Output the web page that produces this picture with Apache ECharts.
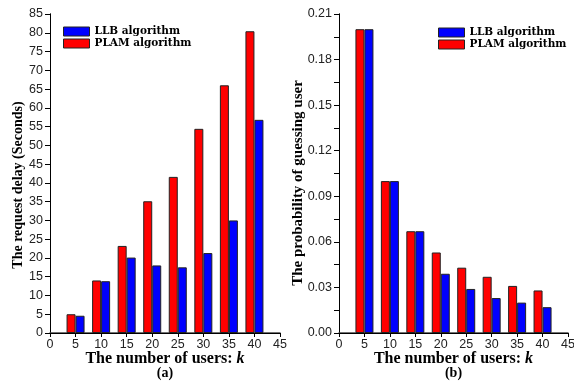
<!DOCTYPE html>
<html>
<head>
<meta charset="utf-8">
<script src="https://cdn.jsdelivr.net/npm/echarts@6/dist/echarts.min.js"></script>
<style>
  html, body { margin: 0; padding: 0; background: #fff; }
  #main { width: 574px; height: 385px; }
</style>
</head>
<body>
<div id="main"></div>
<script>
// users k on the x axis
const users = [5, 10, 15, 20, 25, 30, 35, 40];

// (a) request delay in seconds
const delayPLAM = [5.0, 14.0, 23.2, 35.1, 41.6, 54.4, 66.0, 80.4];
const delayLLB = [4.6, 13.8, 20.1, 18.0, 17.5, 21.3, 30.0, 56.8];

// (b) probability of guessing user
const probPLAM = [0.200, 0.100, 0.067, 0.053, 0.043, 0.037, 0.031, 0.028];
const probLLB = [0.200, 0.100, 0.067, 0.039, 0.029, 0.023, 0.020, 0.017];

const pairs = (vals) => users.map((u, i) => [u, vals[i]]);

const labelFont = { fontFamily: 'Liberation Sans', fontSize: 12.5, color: '#222' };
const axLine = { show: true, lineStyle: { color: '#000', width: 1 } };

function xName(tag) {
    return {
        name: 'The number of users: {i|k}\n{s|(' + tag + ')}',
        nameLocation: 'middle',
        nameGap: 18,
        nameMoveOverlap: false,
        nameTextStyle: {
            fontFamily: 'Liberation Serif', fontWeight: 'bold', fontSize: 16, color: '#000',
            lineHeight: 15,
            rich: {
                i: { fontFamily: 'Liberation Serif', fontWeight: 'bold', fontStyle: 'italic', fontSize: 16, color: '#000' },
                s: { fontFamily: 'Liberation Serif', fontWeight: 'bold', fontSize: 14, color: '#000', lineHeight: 15 }
            }
        }
    };
}

function xAxes(gi, tag) {
    return [
        Object.assign({
            type: 'value', gridIndex: gi, min: 0, max: 45, interval: 5,
            axisLine: { show: true, onZero: false, lineStyle: { color: '#444', width: 1.5 } },
            axisTick: { show: false },
            axisLabel: Object.assign({ margin: 5 }, labelFont),
            splitLine: { show: false }
        }, xName(tag)),
        {
            type: 'value', gridIndex: gi, position: 'top', min: 0, max: 45, interval: 5,
            axisLine: axLine,
            axisTick: { show: true, inside: true, length: 4, lineStyle: { color: '#000' } },
            axisLabel: { show: false },
            splitLine: { show: false }
        }
    ];
}

const barStyle = (color) => ({ color: color, borderColor: '#222', borderWidth: 1 });

function barSeries(xi, yi, plam, llb) {
    return [
        { name: 'PLAM algorithm', type: 'bar', xAxisIndex: xi, yAxisIndex: yi, data: pairs(plam),
          barWidth: 9, barGap: '0%', itemStyle: barStyle('#ff0000') },
        { name: 'LLB algorithm', type: 'bar', xAxisIndex: xi, yAxisIndex: yi, data: pairs(llb),
          barWidth: 9, barGap: '0%', itemStyle: barStyle('#0000ff') }
    ];
}

function legendAt(left, top) {
    return {
        data: ['LLB algorithm', 'PLAM algorithm'],
        orient: 'vertical', left: left, top: top,
        icon: 'rect',
        itemWidth: 26, itemHeight: 9, itemGap: 1,
        itemStyle: { borderColor: '#222', borderWidth: 1 },
        textStyle: { fontFamily: 'DejaVu Serif', fontWeight: 'bold', fontSize: 10.5, color: '#000' },
        selectedMode: false
    };
}

const option = {
    animation: false,
    backgroundColor: '#fff',
    grid: [
        { left: 50, right: 294, top: 14, bottom: 52, outerBoundsMode: 'none' },
        { left: 339, right: 6, top: 14, bottom: 52, outerBoundsMode: 'none' }
    ],
    legend: [legendAt(58, 21), legendAt(433, 22)],
    graphic: [
        {
            type: 'text', x: 18, y: 185, rotation: Math.PI / 2,
            style: { text: 'The request delay (Seconds)', fontFamily: 'Liberation Serif', fontWeight: 'bold',
                     fontSize: 14, fill: '#000', align: 'center', verticalAlign: 'middle' }
        },
        {
            type: 'text', x: 298, y: 183, rotation: Math.PI / 2,
            style: { text: 'The probability of guessing user', fontFamily: 'Liberation Serif', fontWeight: 'bold',
                     fontSize: 15, fill: '#000', align: 'center', verticalAlign: 'middle' }
        }
    ],
    xAxis: xAxes(0, 'a').concat(xAxes(1, 'b')),
    yAxis: [
        {
            type: 'value', gridIndex: 0, min: 0, max: 85, interval: 5,
            axisLine: axLine,
            axisTick: { show: true, length: 4, lineStyle: { color: '#000' } },
            axisLabel: Object.assign({ margin: 7 }, labelFont),
            splitLine: { show: false }
        },
        {
            type: 'value', gridIndex: 0, position: 'right', min: 0, max: 85, interval: 5,
            axisLine: axLine,
            axisTick: { show: true, inside: true, length: 5, lineStyle: { color: '#000' } },
            axisLabel: { show: false },
            splitLine: { show: false }
        },
        {
            type: 'value', gridIndex: 1, min: 0, max: 0.21, interval: 0.03,
            axisLine: axLine,
            axisTick: { show: true, length: 4, lineStyle: { color: '#000' } },
            minorTick: { show: true, splitNumber: 2, length: 4, lineStyle: { color: '#000' } },
            axisLabel: Object.assign({ margin: 7, formatter: (v) => v.toFixed(2) }, labelFont),
            splitLine: { show: false }
        },
        {
            type: 'value', gridIndex: 1, position: 'right', min: 0, max: 0.21, interval: 0.015,
            axisLine: axLine,
            axisTick: { show: true, inside: true, length: 5, lineStyle: { color: '#000' } },
            axisLabel: { show: false },
            splitLine: { show: false }
        }
    ],
    series: barSeries(0, 0, delayPLAM, delayLLB).concat(barSeries(2, 2, probPLAM, probLLB))
};

const chart = echarts.init(document.getElementById('main'), null, { renderer: 'canvas' });
chart.setOption(option);
</script>
</body>
</html>
